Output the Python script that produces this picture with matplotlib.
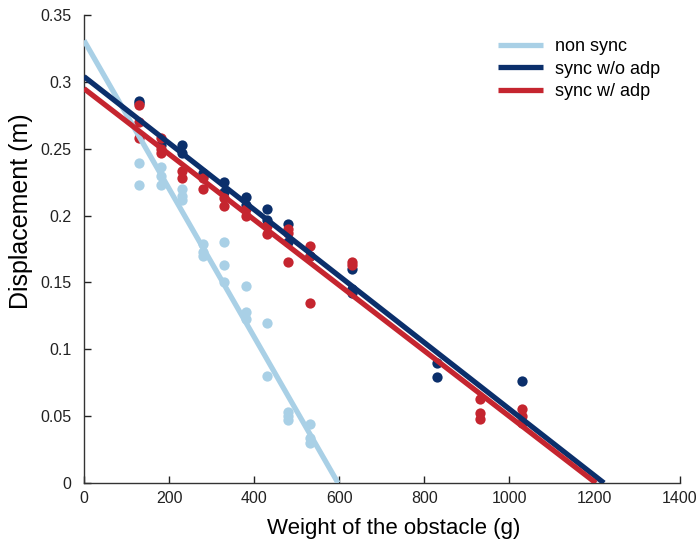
import matplotlib
matplotlib.use("Agg")
import matplotlib.pyplot as plt
import numpy as np

plt.rcParams["font.family"] = ["Liberation Sans", "DejaVu Sans"]

# Measurements: obstacle weight (g) vs displacement (m)
nonsync_x = [130, 130, 180, 180, 180, 230, 230, 230, 280, 280, 280,
             330, 330, 330, 380, 380, 380, 430, 430, 480, 480, 480,
             530, 530, 530]
nonsync_y = [0.239, 0.223, 0.236, 0.230, 0.223, 0.220, 0.215, 0.212,
             0.179, 0.173, 0.170, 0.180, 0.163, 0.150, 0.147, 0.128,
             0.123, 0.120, 0.080, 0.053, 0.050, 0.047, 0.044, 0.034,
             0.030]

sync_x = [130, 130, 180, 230, 230, 280, 280, 330, 330, 380, 380,
          430, 430, 480, 480, 530, 630, 630, 630, 830, 830, 1030]
sync_y = [0.286, 0.284, 0.253, 0.253, 0.247, 0.232, 0.230, 0.225,
          0.218, 0.214, 0.208, 0.205, 0.197, 0.194, 0.180, 0.170,
          0.160, 0.145, 0.142, 0.090, 0.079, 0.076]

adp_x = [130, 130, 130, 180, 180, 180, 230, 230, 280, 280, 330, 330,
         380, 380, 430, 430, 480, 480, 480, 530, 530, 530, 630, 630,
         930, 930, 930, 1030, 1030, 1030]
adp_y = [0.283, 0.270, 0.258, 0.258, 0.250, 0.247, 0.233, 0.228,
         0.228, 0.220, 0.213, 0.207, 0.205, 0.200, 0.192, 0.186,
         0.190, 0.187, 0.165, 0.177, 0.170, 0.135, 0.165, 0.163,
         0.063, 0.052, 0.048, 0.055, 0.050, 0.045]

# Linear fits: intercept (m) and x-intercept (g)
fit_intercepts = [0.331, 0.304, 0.295]
fit_zero = [597, 1222, 1203]

labels = ["non sync", "sync w/o adp", "sync w/ adp"]
colors = ["#a9d0e6", "#0b2f6b", "#c5252f"]

fig = plt.figure(figsize=(7.0, 5.46), dpi=100)
ax = fig.add_axes([0.12, 0.1154, 0.851, 0.857])

series = [(nonsync_x, nonsync_y), (sync_x, sync_y), (adp_x, adp_y)]
for (xs, ys), c in zip(series, colors):
    ax.plot(xs, ys, "o", color=c, markersize=7.4, markeredgewidth=0, zorder=3)

for b, x0, c, lab in zip(fit_intercepts, fit_zero, colors, labels):
    xx = np.array([0, x0])
    ax.plot(xx, b - b / x0 * xx, color=c, lw=3.8, label=lab, zorder=4,
            solid_capstyle="butt")

ax.set_xlim(0, 1400)
ax.set_ylim(0, 0.35)
ax.set_xticks(np.arange(0, 1401, 200))
ax.set_yticks([0, 0.05, 0.1, 0.15, 0.2, 0.25, 0.3, 0.35])
ax.set_yticklabels(["0", "0.05", "0.1", "0.15", "0.2", "0.25", "0.3", "0.35"])
ax.spines["top"].set_visible(False)
ax.spines["right"].set_visible(False)
for s in ("left", "bottom"):
    ax.spines[s].set_color("#333333")
    ax.spines[s].set_linewidth(1.0)
ax.tick_params(direction="in", length=5, width=1, labelsize=11.5, colors="#222222")
ax.tick_params(axis="x", pad=6)
ax.tick_params(axis="y", pad=9)

ax.set_xlabel("Weight of the obstacle (g)", fontsize=16)
ax.xaxis.set_label_coords(0.52, -0.075)
ax.set_ylabel("Displacement (m)", fontsize=18)
ax.yaxis.set_label_coords(-0.085, 0.58)

leg = ax.legend(loc="upper left", bbox_to_anchor=(0.668, 0.985), frameon=False,
                fontsize=13, handlelength=2.5, handletextpad=0.65,
                labelspacing=0.3)

fig.savefig("out.png", dpi=100)
